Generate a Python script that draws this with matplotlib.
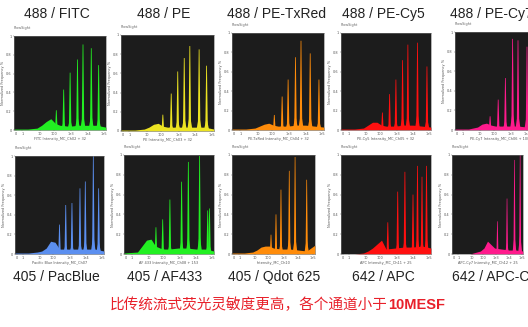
import matplotlib.pyplot as plt

# panel titles
titles = ["488 / FITC", "488 / PE", "488 / PE-TxRed", "488 / PE-Cy5", "488 / PE-Cy7",
          "405 / PacBlue", "405 / AF433", "405 / Qdot 625", "642 / APC", "642 / APC-Cy7"]
xlabels = ["FITC Intensity_MC_Ch02 + 32", "PE Intensity_MC_Ch03 + 32",
           "PE-TxRed Intensity_MC_Ch04 + 32", "PE-Cy5 Intensity_MC_Ch05 + 32",
           "PE-Cy7 Intensity_MC_Ch06 + 100", "Pacific Blue Intensity_MC_Ch07",
           "AF 433 Intensity_MC_Ch08 + 153", "Intensity_MC_Ch10",
           "APC Intensity_MC_Ch11 + 25", "APC-Cy7 Intensity_MC_Ch12 + 25"]
colors = ["#22f022", "#ece322", "#ff8c0a", "#ff1010", "#ff1a8c",
          "#5b8ff0", "#22f022", "#ff8c0a", "#ff1010", "#ff1a8c"]

# x axis tick positions (fraction of the log axis) and labels
tick_x = [0.02, 0.09, 0.28, 0.43, 0.62, 0.80, 0.98]
tick_labels = ["0", "1", "10", "100", "1e3", "1e4", "1e5"]

# background profile sample points (shared)
base_x = [0.0, 0.15, 0.25, 0.3, 0.35, 0.4, 0.45, 0.5, 0.6, 0.7, 0.8, 0.9, 1.0]

# bead peaks: position on axis, normalized height
fitc_x = [0.46, 0.54, 0.61, 0.69, 0.75, 0.84, 0.92]
fitc_h = [0.21, 0.43, 0.61, 0.75, 0.91, 0.87, 0.69]
fitc_base = [0.01, 0.01, 0.02, 0.05, 0.09, 0.12, 0.07, 0.05, 0.04, 0.05, 0.05, 0.05, 0.03]

pe_x = [0.45, 0.54, 0.61, 0.68, 0.74, 0.84, 0.92]
pe_h = [0.17, 0.39, 0.62, 0.76, 0.885, 0.85, 0.68]
pe_base = [0.01, 0.01, 0.02, 0.04, 0.07, 0.08, 0.05, 0.04, 0.04, 0.04, 0.04, 0.04, 0.02]

petx_x = [0.46, 0.545, 0.61, 0.69, 0.75, 0.85, 0.945]
petx_h = [0.155, 0.345, 0.52, 0.75, 0.92, 0.79, 0.52]
petx_base = [0.01, 0.01, 0.02, 0.04, 0.06, 0.07, 0.05, 0.04, 0.04, 0.05, 0.05, 0.04, 0.03]

pecy5_x = [0.46, 0.54, 0.61, 0.684, 0.743, 0.85, 0.955]
pecy5_h = [0.18, 0.37, 0.52, 0.72, 0.88, 0.90, 0.655]
pecy5_base = [0.01, 0.01, 0.02, 0.05, 0.08, 0.08, 0.05, 0.04, 0.04, 0.05, 0.05, 0.04, 0.03]

pecy7_x = [0.39, 0.48, 0.56, 0.64, 0.70, 0.80, 0.90]
pecy7_h = [0.14, 0.31, 0.53, 0.93, 0.915, 0.85, 0.70]
pecy7_base = [0.01, 0.01, 0.03, 0.06, 0.07, 0.05, 0.04, 0.04, 0.04, 0.04, 0.03, 0.02, 0.02]

pb_x = [0.50, 0.57, 0.64, 0.73, 0.79, 0.88, 0.94]
pb_h = [0.30, 0.50, 0.52, 0.67, 0.74, 1.0, 0.67]
pb_base = [0.01, 0.01, 0.02, 0.03, 0.06, 0.13, 0.12, 0.05, 0.05, 0.05, 0.05, 0.05, 0.03]

af_x = [0.355, 0.43, 0.51, 0.64, 0.715, 0.84, 0.93, 0.95]
af_h = [0.27, 0.35, 0.55, 0.73, 0.93, 0.99, 0.44, 0.46]
af_base = [0.01, 0.02, 0.14, 0.15, 0.08, 0.06, 0.05, 0.05, 0.06, 0.06, 0.05, 0.05, 0.03]

qd_x = [0.47, 0.53, 0.59, 0.69, 0.76, 0.90]
qd_h = [0.195, 0.40, 0.65, 0.84, 0.98, 0.75]
qd_base = [0.01, 0.01, 0.02, 0.04, 0.07, 0.08, 0.08, 0.06, 0.05, 0.05, 0.04, 0.03, 0.09]

apc_x = [0.52, 0.63, 0.71, 0.80, 0.85, 0.90, 0.95]
apc_h = [0.32, 0.63, 0.83, 0.60, 0.89, 0.78, 0.89]
apc_base = [0.0, 0.0, 0.01, 0.03, 0.06, 0.10, 0.14, 0.05, 0.06, 0.07, 0.07, 0.08, 0.06]

apccy7_x = [0.64, 0.775, 0.88, 0.96]
apccy7_h = [0.33, 0.56, 0.95, 1.0]
apccy7_base = [0.0, 0.0, 0.0, 0.01, 0.02, 0.03, 0.06, 0.13, 0.06, 0.05, 0.04, 0.04, 0.03]

peaks_x = [fitc_x, pe_x, petx_x, pecy5_x, pecy7_x, pb_x, af_x, qd_x, apc_x, apccy7_x]
peaks_h = [fitc_h, pe_h, petx_h, pecy5_h, pecy7_h, pb_h, af_h, qd_h, apc_h, apccy7_h]
bases = [fitc_base, pe_base, petx_base, pecy5_base, pecy7_base,
         pb_base, af_base, qd_base, apc_base, apccy7_base]

# panel boxes in pixels (x0, y0, x1, y1), figure is 528 x 327
boxes = [(14, 36, 106, 130), (121, 35, 214, 131), (232, 33, 324, 130),
         (341, 33, 431, 130), (455, 32, 545, 130),
         (15, 156, 104, 254), (124, 155, 214, 254), (232, 155, 315, 254),
         (341, 155, 431, 254), (452, 155, 523, 254)]
title_pos = [(24, 14), (137, 14), (227, 14), (342, 14), (450, 14),
             (13, 277), (127, 277), (228, 277), (352, 277), (452, 277)]

W, H = 528, 327
fig = plt.figure(figsize=(W / 100, H / 100), dpi=100)

for i in range(10):
    x0, y0, x1, y1 = boxes[i]
    ax = fig.add_axes([x0 / W, 1 - y1 / H, (x1 - x0) / W, (y1 - y0) / H])
    ax.set_facecolor("#1c1c1c")
    c = colors[i]
    ax.fill_between(base_x, 0, bases[i], color=c, lw=0)
    for px, ph in zip(peaks_x[i], peaks_h[i]):
        # wide skirt, then a narrow flat-topped spike
        ax.fill([px - 0.03, px, px + 0.03], [0, ph * 0.2, 0], color=c, lw=0)
        ax.fill([px - 0.014, px - 0.004, px + 0.004, px + 0.014],
                [0, ph, ph, 0], color=c, lw=0)
    ax.set_xlim(0, 1)
    ax.set_ylim(0, 1.0)
    ax.set_xticks(tick_x)
    ax.set_xticklabels(tick_labels)
    ax.set_yticks([0, 0.2, 0.4, 0.6, 0.8, 1.0])
    ax.set_yticklabels(["0", "0.2", "0.4", "0.6", "0.8", "1"])
    ax.tick_params(labelsize=2.5, length=1, width=0.3, pad=0.6, colors="#555555")
    for s in ax.spines.values():
        s.set_color("#777777")
        s.set_linewidth(0.4)
    ax.set_xlabel(xlabels[i], fontsize=2.5, color="#555555", labelpad=0.8)
    ax.set_ylabel("Normalized Frequency %", fontsize=2.5, color="#555555", labelpad=1)
    ax.text(0.0, 1.06, "FlowSight", transform=ax.transAxes, fontsize=2.5,
            color="#666666", ha="left", va="bottom")
    tx, ty = title_pos[i]
    fig.text(tx / W, 1 - ty / H, titles[i], fontsize=10, color="#222222",
             family="Liberation Sans", ha="left", va="center")

cap = fig.text(110 / W, 1 - 305 / H, "比传统流式荧光灵敏度更高，各个通道小于",
               fontsize=10.5, color="#e8202a",
               family=["Noto Sans CJK SC", "DejaVu Sans"], ha="left", va="center")
plt.annotate("10MESF", xy=(1, 0.5), xycoords=cap, fontsize=10.5, color="#e8202a",
             family="Liberation Sans", weight="bold", ha="left", va="center",
             annotation_clip=False)

fig.savefig("out.png", dpi=100)
